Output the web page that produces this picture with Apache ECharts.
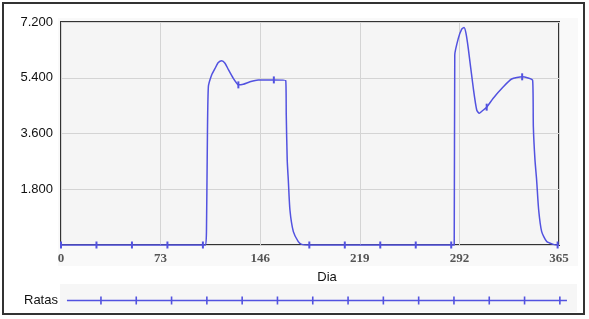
<!DOCTYPE html>
<html>
<head>
<meta charset="utf-8">
<script src="https://cdn.jsdelivr.net/npm/echarts@6/dist/echarts.min.js"></script>
<style>
html,body{margin:0;padding:0;background:#fff;}
#c{width:589px;height:319px;}
</style>
</head>
<body>
<div id="c"></div>
<script>
// ---- data ----
const days = [0, 26, 52, 78, 104, 106, 106.6, 107.2, 108, 110.4, 112.9, 115.3, 117.8, 120.2, 122.6, 126.3, 128.8, 130, 133.6, 138.5, 144.6, 156, 164.7, 165.1, 165.8, 166.6, 167.8, 170.3, 173.9, 176.4, 182, 208, 234, 260, 286, 288.2, 288.6, 291.2, 293.7, 295.4, 296.8, 298.5, 302.2, 304.7, 306.6, 308.5, 312, 316.8, 324.2, 330.3, 338, 345.7, 346.2, 347.4, 348.6, 350.1, 352.3, 356, 360.8, 364, 365];
const ratas = [0, 0, 0, 0, 0, 0, 0.4, 3.0, 5.11, 5.49, 5.70, 5.89, 5.95, 5.87, 5.67, 5.38, 5.22, 5.17, 5.19, 5.27, 5.33, 5.33, 5.31, 4.2, 2.74, 2.1, 1.13, 0.43, 0.11, 0.02, 0, 0, 0, 0, 0, 0, 6.13, 6.67, 6.97, 7.02, 6.84, 6.35, 5.06, 4.36, 4.25, 4.32, 4.45, 4.74, 5.11, 5.36, 5.43, 5.31, 3.82, 2.74, 2.1, 1.13, 0.43, 0.11, 0.02, 0, 0];
const markerDays = [0, 26, 52, 78, 104, 130, 156, 182, 208, 234, 260, 286, 312, 338, 364];
const xTickLabels = ['0', '73', '146', '219', '292', '365'];
const yTickLabels = ['', '1.800', '3.600', '5.400', '7.200'];
const seriesName = 'Ratas';
const xName = 'Dia';

const LINE = '#5252e0';
const markerSet = new Set(markerDays);
const data = days.map((d, i) => ({
  value: [d, ratas[i]],
  symbol: markerSet.has(d) ? 'rect' : 'none'
}));

// legend icon: long line with small vertical ticks
let iconPath = 'path://M0 3.3H500V4.7H0Z';
for (let k = 0; k < 14; k++) {
  const x = 34 + 35.3 * k;
  iconPath += 'M' + (x - 0.8).toFixed(2) + ' 0H' + (x + 0.8).toFixed(2) + 'V8H' + (x - 0.8).toFixed(2) + 'Z';
}

const chart = echarts.init(document.getElementById('c'), null, {renderer: 'canvas'});
chart.setOption({
  animation: false,
  backgroundColor: '#ffffff',
  graphic: [
    {type: 'rect', z: -10, silent: true, shape: {x: 58, y: 18, width: 520, height: 248}, style: {fill: '#f9f9f9'}},
    {type: 'rect', z: -10, silent: true, shape: {x: 60, y: 284, width: 517, height: 28}, style: {fill: '#f6f6f6'}},
    {type: 'rect', z: 100, silent: true, shape: {x: 3, y: 3, width: 581, height: 311}, style: {fill: 'none', stroke: '#333', lineWidth: 2}}
  ],
  grid: {
    left: 61, top: 22, right: 30, bottom: 74,
    show: true, backgroundColor: '#f5f5f5', borderColor: '#333', borderWidth: 2
  },
  legend: {
    data: [seriesName],
    left: 24, top: 294, padding: 0,
    align: 'right',
    itemWidth: 500, itemHeight: 8,
    icon: iconPath,
    symbolKeepAspect: false,
    itemStyle: {color: LINE, borderWidth: 0},
    textStyle: {fontFamily: 'Liberation Sans, Arial, sans-serif', fontSize: 13, color: '#111', padding: [0, 4, 0, 0]}
  },
  xAxis: {
    type: 'value', min: 0, max: 365, interval: 73,
    name: xName, nameLocation: 'middle', nameGap: 26,
    nameTextStyle: {fontFamily: 'Liberation Sans, Arial, sans-serif', fontSize: 13, color: '#111', padding: [0, 0, 0, 34]},
    axisLine: {show: false}, axisTick: {show: false},
    axisLabel: {
      margin: 7,
      fontFamily: 'Liberation Serif, Times New Roman, serif', fontWeight: 'bold', fontSize: 13, color: '#555',
      formatter: (v) => xTickLabels[Math.round(v / 73)]
    },
    splitLine: {show: true, lineStyle: {color: '#d4d4d4', width: 1}}
  },
  yAxis: {
    type: 'value', min: 0, max: 7.2, interval: 1.8,
    axisLine: {show: false}, axisTick: {show: false},
    axisLabel: {
      margin: 8,
      fontFamily: 'Liberation Sans, Arial, sans-serif', fontSize: 13, color: '#111',
      formatter: (v) => yTickLabels[Math.round(v / 1.8)]
    },
    splitLine: {show: true, lineStyle: {color: '#d4d4d4', width: 1}}
  },
  series: [{
    name: seriesName,
    type: 'line',
    data: data,
    clip: false,
    smooth: 0.2,
    showSymbol: true,
    showAllSymbol: true,
    symbolSize: [2, 7],
    itemStyle: {color: LINE},
    lineStyle: {color: LINE, width: 1.5}
  }]
});
</script>
</body>
</html>
